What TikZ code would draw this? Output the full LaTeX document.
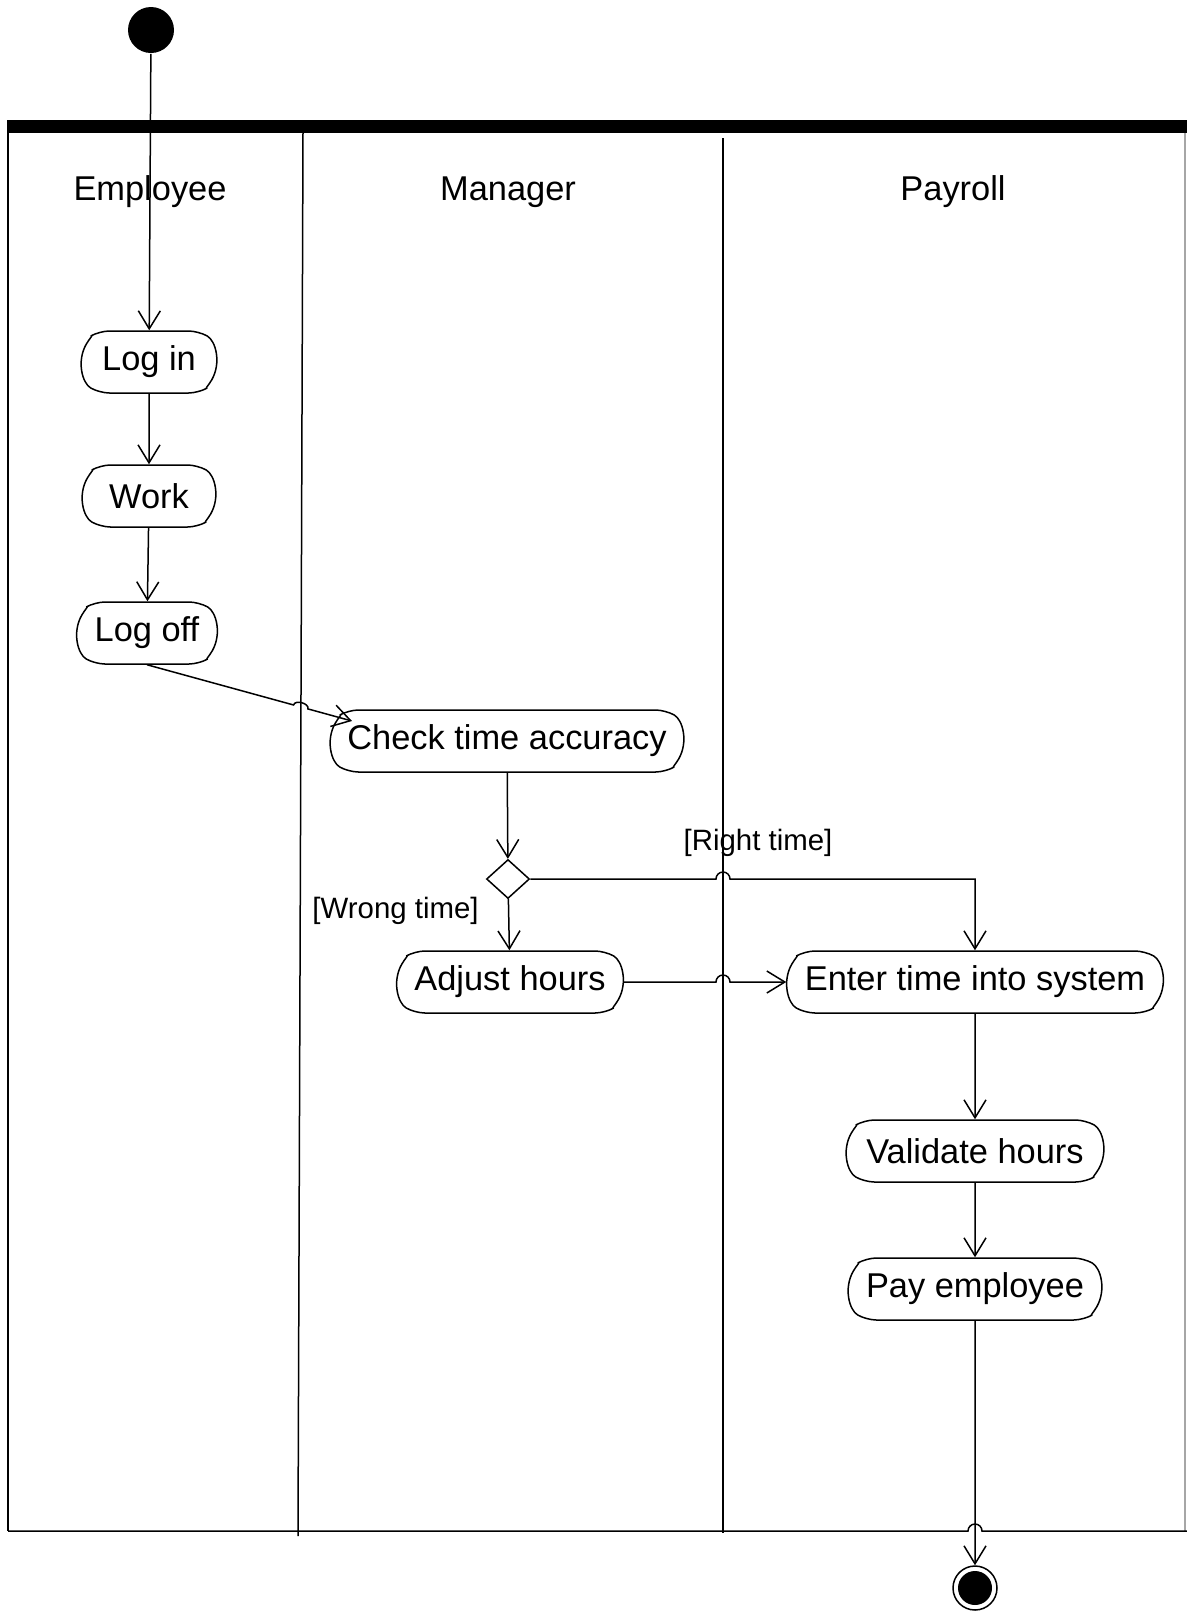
\documentclass[tikz,border=0pt]{standalone}
\usepackage{fontspec}
\setmainfont{Liberation Sans}
\usetikzlibrary{shapes.misc,shapes.geometric,arrows.meta,calc}
\begin{document}
\begin{tikzpicture}[x=0.5pt,y=-0.5pt,
  line width=0.75pt,
  act/.style={draw, rounded rectangle, rounded rectangle arc length=120,
    rounded corners=5pt,
    minimum height=31pt, inner xsep=0pt, inner ysep=0pt,
    font=\fontsize{17.2}{20}\selectfont},
  lane/.style={anchor=base, font=\fontsize{17.2}{20}\selectfont},
  guard/.style={font=\fontsize{14.7}{17}\selectfont},
  flow/.style={-{Straight Barb[length=9pt,width=11pt]}},
]
\useasboundingbox (0,0) rectangle (1187,1613);

% swimlane frame
\fill (7,120) rectangle (1187,133);
\coordinate (divAtop) at (303,133);
\coordinate (divAbot) at (298,1536);
\coordinate (divBtop) at (723,138);
\coordinate (divBbot) at (723,1533);
\draw (8,133) -- (8,1531);
\draw (divAtop) -- (divAbot);
\draw (divBtop) -- (divBbot);
\draw[black!35] (1185,133) -- (1185,1531);

\node[lane] (hemp) at (150,200) {Employee};
\node[lane] (hman) at (508,200) {Manager};
\node[lane] (hpay) at (953,200) {Payroll};

% nodes
\node[fill, circle, minimum size=23pt, inner sep=0pt] (start) at (151,30) {};
\node[act, minimum width=67.5pt] (login) at (149,362) {Log in};
\node[act, minimum width=66.5pt] (work) at (149,496) {Work};
\node[act, minimum width=70pt] (logoff) at (147,633) {Log off};
\node[act, minimum width=176.5pt] (check) at (507,741) {Check time accuracy};
\node[draw, diamond, minimum width=21.5pt, minimum height=19.5pt, inner sep=0pt] (dec) at (508,879) {};
\node[act, minimum width=113pt] (adjust) at (510,982) {Adjust hours};
\node[act, minimum width=188pt] (enter) at (975,982) {Enter time into system};
\node[act, minimum width=128.5pt] (validate) at (975,1151) {Validate hours};
\node[act, minimum width=126.5pt] (pay) at (975,1289) {Pay employee};
\node[draw, circle, minimum size=22pt, inner sep=0pt] (end) at (975,1588) {};
\node[fill, circle, minimum size=17pt, inner sep=0pt] (endin) at (end.center) {};

\node[guard, anchor=east] (wrong) at (486,911) {[Wrong time]};
\node[guard] (right) at (758,843) {[Right time]};

% connectors
\draw[flow] (start) -- (login);
\draw[flow] (login) -- (work);
\draw[flow] (work) -- (logoff);
\coordinate (ctip) at (352,721);
\draw[flow] (logoff.south) -- ($(logoff.south)!0.715!(ctip)$)
  to[bend left=90] ($(logoff.south)!0.785!(ctip)$) -- (ctip);
\draw[flow] (check) -- (dec);
\draw[flow] (dec) -- (adjust);
\draw[flow] (dec.east) -- ($(dec.east -| divBtop)+(-7,0)$)
  arc[start angle=180,end angle=0,radius=3.5pt]
  -- (dec.east -| enter.north) -- (enter.north);
\draw[flow] (adjust.east) -- ($(adjust.east -| divBtop)+(-7,0)$)
  arc[start angle=180,end angle=0,radius=3.5pt] -- (enter.west);
\draw[flow] (enter) -- (validate);
\draw[flow] (validate) -- (pay);
\draw[flow] (pay) -- (end);

% bottom border with a jump over the final arrow
\draw (8,1531) -- ($(end.center |- 0,1531)+(-7,0)$)
  arc[start angle=180,end angle=0,radius=3.5pt] -- (1187,1531);
\end{tikzpicture}
\end{document}
